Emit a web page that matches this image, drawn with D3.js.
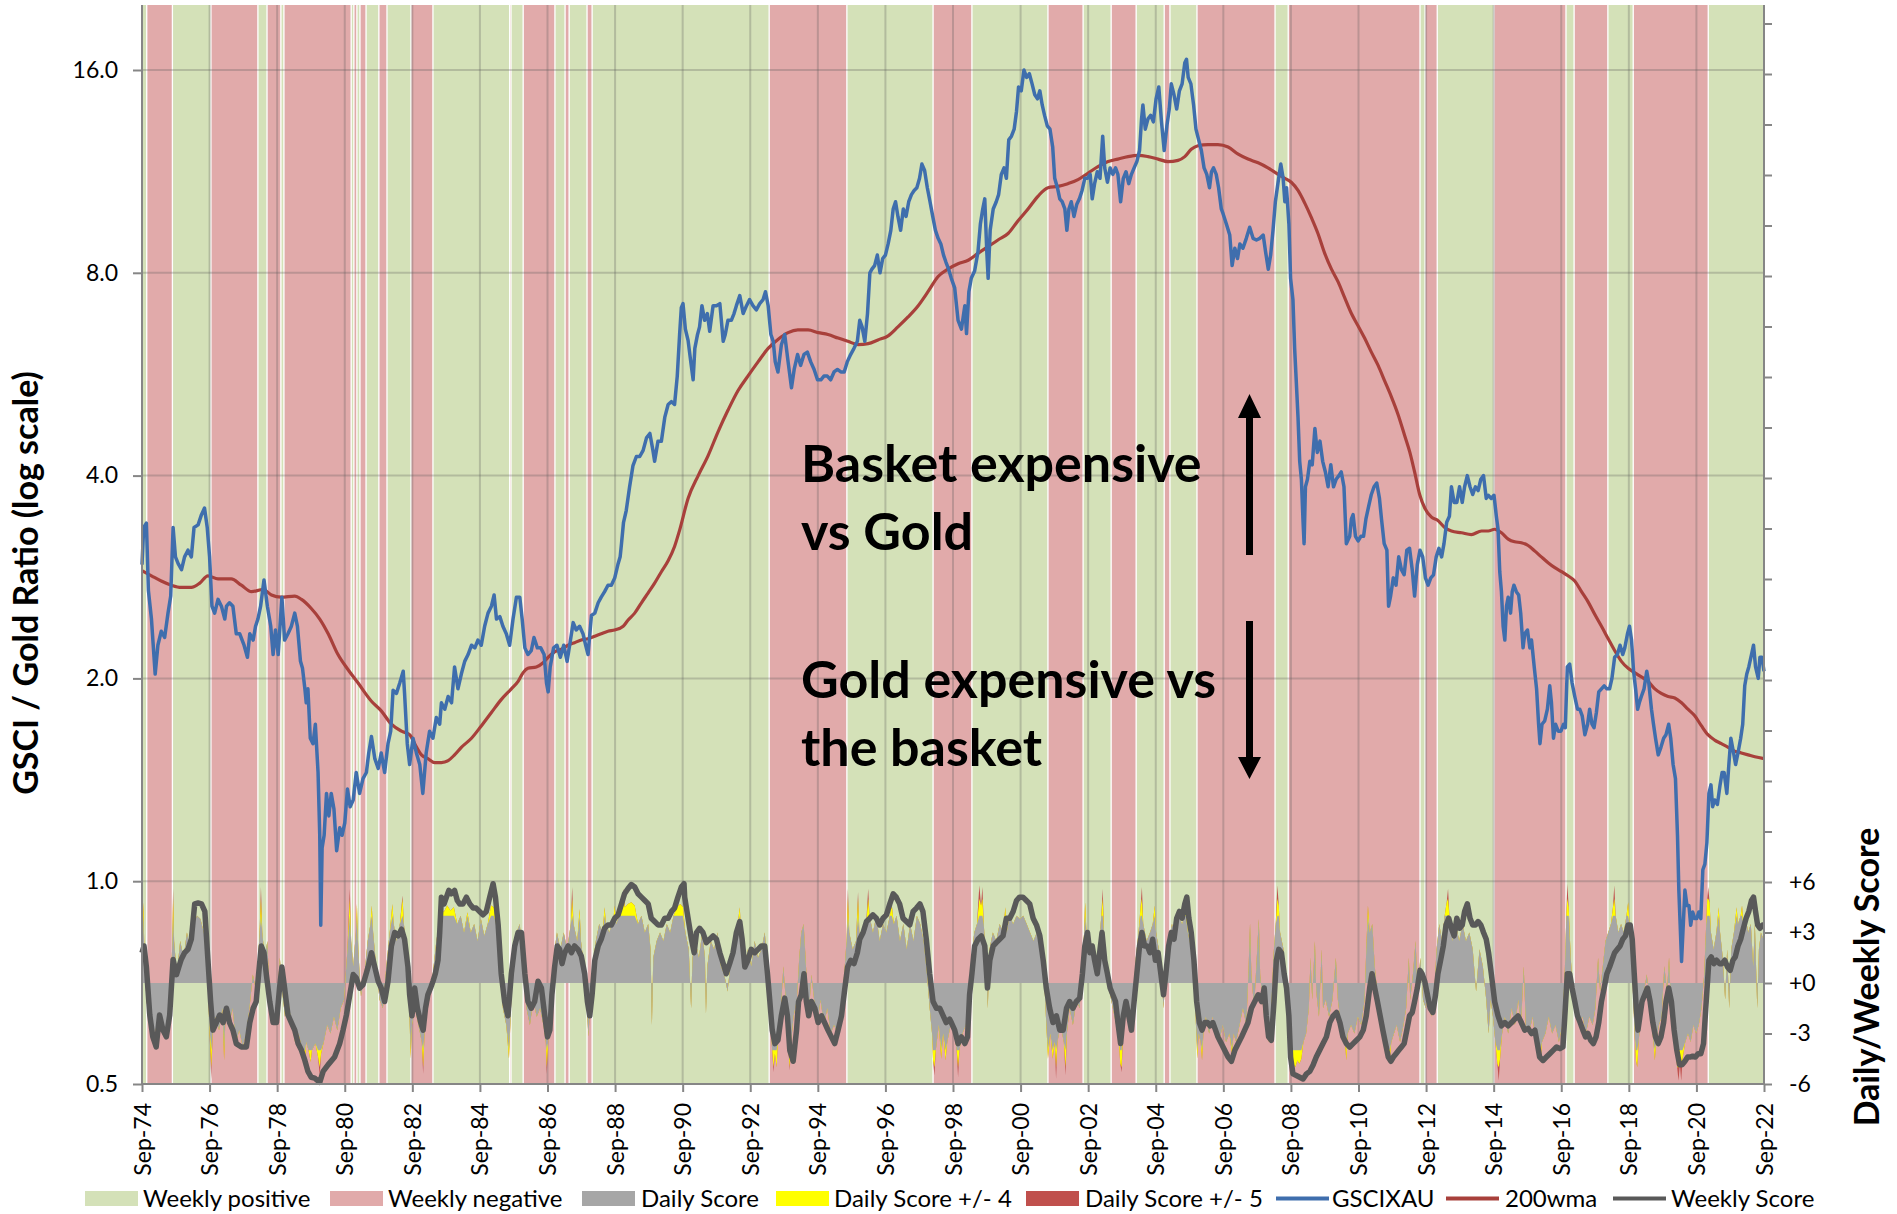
<!DOCTYPE html>
<html>
<head>
<meta charset="utf-8">
<script src="https://cdn.jsdelivr.net/npm/d3@7"></script>
<style>
  body { margin: 0; background: #fff; }
  svg { display: block; }
  text { font-family: Lato, "Open Sans", sans-serif; fill: #000; }
</style>
</head>
<body>
<svg id="chart" width="1897" height="1214"></svg>
<script>
// ---- Axis ticks -------------------------------------------------------
const xTickLabels = ["Sep-74","Sep-76","Sep-78","Sep-80","Sep-82","Sep-84","Sep-86","Sep-88",
  "Sep-90","Sep-92","Sep-94","Sep-96","Sep-98","Sep-00","Sep-02","Sep-04","Sep-06","Sep-08",
  "Sep-10","Sep-12","Sep-14","Sep-16","Sep-18","Sep-20","Sep-22"];
const xTickYears = [1974.67,1976.67,1978.67,1980.67,1982.67,1984.67,1986.67,1988.67,1990.67,
  1992.67,1994.67,1996.67,1998.67,2000.67,2002.67,2004.67,2006.67,2008.67,2010.67,2012.67,
  2014.67,2016.67,2018.67,2020.67,2022.67];
const ratioTicks = [0.5, 1, 2, 4, 8, 16];
const scoreLabels = [-6, -3, 0, 3, 6];

// ---- Weekly regime bands (edges in decimal years, +1 positive / -1 negative) ----
const bandEdges = [1974.67,1974.81,1975.57,1976.71,1978.10,1978.37,1978.78,1978.87,1980.86,
  1980.94,1981.03,1981.12,1981.30,1981.68,1981.92,1982.63,1983.28,1985.55,1985.59,1985.95,
  1986.89,1987.19,1987.31,1987.84,1987.99,1993.23,1995.53,1998.08,1999.23,2001.48,2002.52,
  2003.35,2004.09,2004.92,2005.09,2005.89,2008.20,2008.59,2012.49,2012.64,2013.00,2014.68,
  2016.81,2017.05,2018.05,2018.80,2021.02,2022.67];
const bandSigns = [1,-1,1,-1,1,-1,1,-1,1,-1,1,-1,1,-1,1,-1,1,-1,1,-1,1,-1,1,-1,1,-1,1,-1,1,-1,
  1,-1,1,-1,1,-1,1,-1,1,-1,1,-1,1,-1,1,-1,1];

// ---- GSCI / Gold ratio (GSCIXAU) ---------------------------------------
const gsciGold = [
[1974.67,2.95],[1974.72,3.35],[1974.80,3.40],[1974.86,2.70],[1974.95,2.45],[1975.06,2.03],[1975.14,2.24],[1975.24,2.35],[1975.34,2.30],[1975.44,2.50],[1975.52,2.65],[1975.59,3.35],[1975.66,3.03],[1975.74,2.96],[1975.84,2.90],[1975.93,3.03],[1976.03,3.10],[1976.13,3.03],[1976.21,3.35],[1976.33,3.38],[1976.43,3.50],[1976.52,3.58],[1976.60,3.35],[1976.67,3.03],[1976.74,2.56],[1976.82,2.50],[1976.92,2.62],[1977.02,2.56],[1977.12,2.45],[1977.17,2.56],[1977.26,2.59],[1977.36,2.56],[1977.46,2.33],[1977.56,2.33],[1977.69,2.24],[1977.79,2.15],[1977.86,2.33],[1977.96,2.28],[1978.03,2.39],[1978.10,2.45],[1978.18,2.56],[1978.28,2.80],[1978.38,2.56],[1978.48,2.39],[1978.55,2.17],[1978.62,2.36],[1978.70,2.17],[1978.81,2.64],[1978.89,2.28],[1978.99,2.33],[1979.09,2.39],[1979.19,2.50],[1979.27,2.39],[1979.36,2.12],[1979.42,2.07],[1979.49,1.93],[1979.53,1.84],[1979.58,1.93],[1979.65,1.63],[1979.73,1.60],[1979.80,1.71],[1979.88,1.45],[1979.93,1.17],[1979.96,0.86],[1980.00,1.12],[1980.06,1.17],[1980.13,1.35],[1980.20,1.25],[1980.27,1.35],[1980.35,1.28],[1980.43,1.11],[1980.52,1.20],[1980.59,1.17],[1980.67,1.22],[1980.75,1.37],[1980.83,1.29],[1980.92,1.32],[1981.01,1.45],[1981.11,1.35],[1981.21,1.42],[1981.31,1.45],[1981.38,1.55],[1981.46,1.64],[1981.56,1.52],[1981.66,1.47],[1981.75,1.55],[1981.85,1.45],[1981.95,1.60],[1982.03,1.67],[1982.10,1.92],[1982.20,1.90],[1982.30,1.97],[1982.40,2.05],[1982.44,1.90],[1982.52,1.60],[1982.59,1.49],
[1982.69,1.63],[1982.79,1.55],[1982.89,1.49],[1982.98,1.35],[1983.08,1.55],[1983.18,1.67],[1983.28,1.63],[1983.38,1.75],[1983.48,1.71],[1983.53,1.84],[1983.63,1.80],[1983.73,1.88],[1983.83,1.84],[1983.92,2.08],[1984.02,1.93],[1984.12,2.03],[1984.22,2.12],[1984.32,2.17],[1984.42,2.24],[1984.52,2.22],[1984.61,2.28],[1984.71,2.24],[1984.81,2.39],[1984.91,2.50],[1985.01,2.56],[1985.09,2.66],[1985.16,2.45],[1985.26,2.47],[1985.35,2.39],[1985.45,2.33],[1985.55,2.24],[1985.65,2.45],[1985.75,2.64],[1985.85,2.64],[1985.92,2.45],[1986.00,2.22],[1986.09,2.17],[1986.19,2.20],[1986.27,2.30],[1986.37,2.22],[1986.47,2.22],[1986.57,2.17],[1986.64,1.97],[1986.69,1.91],[1986.75,2.08],[1986.85,2.22],[1986.95,2.24],[1987.05,2.15],[1987.15,2.24],[1987.25,2.12],[1987.35,2.28],[1987.43,2.42],[1987.52,2.36],[1987.62,2.39],[1987.72,2.33],[1987.80,2.24],[1987.87,2.17],[1987.97,2.48],[1988.07,2.50],[1988.17,2.59],[1988.26,2.64],[1988.36,2.69],[1988.46,2.75],[1988.56,2.75],[1988.66,2.82],[1988.76,2.96],[1988.82,3.03],[1988.86,3.17],[1988.92,3.41],[1989.00,3.55],[1989.10,3.85],[1989.20,4.14],[1989.30,4.27],[1989.40,4.27],[1989.50,4.36],[1989.60,4.55],[1989.70,4.62],[1989.79,4.36],[1989.84,4.20],[1989.94,4.50],[1990.04,4.50],[1990.14,4.88],[1990.24,5.10],[1990.34,5.15],[1990.43,5.10],[1990.51,5.62],[1990.58,6.48],
[1990.63,7.10],[1990.68,7.20],[1990.75,6.60],[1990.83,6.35],[1990.91,5.90],[1990.98,5.55],[1991.03,6.18],[1991.11,6.48],[1991.17,6.65],[1991.24,7.15],[1991.32,6.80],[1991.40,6.96],[1991.47,6.55],[1991.57,7.15],[1991.67,7.15],[1991.77,7.20],[1991.87,6.33],[1991.93,6.48],[1992.01,6.80],[1992.11,6.80],[1992.19,6.96],[1992.26,7.15],[1992.36,7.40],[1992.46,6.96],[1992.56,7.15],[1992.65,7.30],[1992.75,7.15],[1992.85,7.05],[1992.95,7.20],[1993.05,7.30],[1993.12,7.50],[1993.20,7.15],[1993.28,6.48],[1993.35,6.33],[1993.41,5.90],[1993.49,5.70],[1993.59,6.25],[1993.69,6.48],[1993.79,5.90],[1993.89,5.40],[1993.97,5.75],[1994.07,6.05],[1994.16,5.83],[1994.26,6.05],[1994.36,6.10],[1994.46,5.90],[1994.56,5.75],[1994.66,5.55],[1994.76,5.55],[1994.85,5.62],[1994.95,5.62],[1995.05,5.55],[1995.15,5.70],[1995.25,5.75],[1995.35,5.70],[1995.45,5.70],[1995.54,5.90],[1995.64,6.05],[1995.74,6.18],[1995.84,6.33],[1995.91,6.80],[1995.98,6.65],[1996.06,6.33],[1996.14,6.96],[1996.21,8.00],[1996.27,8.10],[1996.35,8.20],[1996.43,8.50],[1996.51,8.00],[1996.59,8.40],[1996.67,8.50],[1996.75,8.83],[1996.83,9.25],[1996.90,9.95],[1996.97,10.20],[1997.04,9.70],[1997.12,9.25],[1997.20,9.95],[1997.28,9.70],[1997.36,10.20],[1997.44,10.45],[1997.52,10.60],[1997.60,10.70],[1997.68,11.05],[1997.75,11.60],[1997.83,11.35],[1997.91,10.70],[1997.99,10.20],[1998.07,9.70],[1998.15,9.25],[1998.23,9.00],[1998.31,8.83],[1998.39,8.50],[1998.46,8.30],[1998.54,8.10],
[1998.62,7.85],[1998.72,7.60],[1998.82,6.80],[1998.92,6.60],[1999.02,7.15],[1999.07,6.50],[1999.14,7.50],[1999.21,7.85],[1999.31,8.05],[1999.41,8.60],[1999.48,9.45],[1999.55,9.95],[1999.61,10.30],[1999.67,8.60],[1999.71,7.85],[1999.77,9.25],[1999.86,9.95],[1999.95,10.20],[2000.02,10.45],[2000.10,11.20],[2000.18,11.45],[2000.25,11.05],[2000.32,12.60],[2000.40,12.76],[2000.48,13.07],[2000.55,13.90],[2000.61,15.10],[2000.69,14.90],[2000.77,16.00],[2000.85,15.60],[2000.93,15.80],[2001.01,15.26],[2001.09,14.70],[2001.17,14.50],[2001.24,14.90],[2001.31,14.20],[2001.38,13.70],[2001.46,13.22],[2001.54,13.07],[2001.62,12.30],[2001.68,11.05],[2001.76,10.70],[2001.83,10.30],[2001.90,10.20],[2001.98,9.95],[2002.04,9.25],[2002.10,9.95],[2002.17,10.20],[2002.25,9.70],[2002.33,10.10],[2002.41,10.30],[2002.49,10.60],[2002.57,11.05],[2002.65,11.05],[2002.73,11.20],[2002.79,10.30],[2002.86,10.85],[2002.94,11.30],[2003.02,11.05],[2003.10,12.76],[2003.16,11.45],[2003.24,10.90],[2003.32,11.45],[2003.40,11.20],[2003.48,11.45],[2003.55,11.20],[2003.63,10.20],[2003.71,11.05],[2003.79,11.30],[2003.87,10.85],[2003.95,11.20],[2004.03,11.45],[2004.11,11.70],[2004.19,12.15],[2004.25,13.54],[2004.29,14.20],[2004.36,13.07],[2004.44,13.54],[2004.52,13.70],[2004.60,13.40],[2004.68,14.50],[2004.76,15.10],[2004.84,13.40],[2004.92,12.15],[2005.00,13.22],[2005.07,14.00],[2005.13,15.26],[2005.21,14.70],[2005.29,14.00],[2005.37,14.90],[2005.45,15.26],[2005.53,16.40],[2005.58,16.60],[2005.63,15.60],[2005.71,15.26],[2005.79,14.20],[2005.86,13.07],[2005.94,12.60],[2006.02,12.15],[2006.10,11.45],[2006.18,11.20],[2006.26,10.70],[2006.32,11.30],[2006.38,11.45],[2006.46,11.20],[2006.53,10.70],[2006.61,9.95],
[2006.66,9.80],[2006.76,9.45],[2006.86,9.10],[2006.93,8.20],[2007.01,8.70],[2007.09,8.40],[2007.16,8.83],[2007.25,8.70],[2007.35,9.00],[2007.45,9.35],[2007.55,9.00],[2007.65,8.95],[2007.75,9.00],[2007.85,9.10],[2007.92,8.60],[2008.00,8.10],[2008.07,8.50],[2008.14,9.25],[2008.21,10.20],[2008.29,10.90],[2008.37,11.60],[2008.44,11.05],[2008.49,10.20],[2008.54,10.70],[2008.61,9.45],[2008.66,7.85],[2008.73,7.30],[2008.78,6.18],[2008.83,5.50],[2008.88,4.88],[2008.93,4.20],[2008.98,3.95],[2009.03,3.41],[2009.06,3.17],[2009.10,3.85],[2009.16,3.95],[2009.23,4.20],[2009.30,4.15],[2009.38,4.70],[2009.45,4.33],[2009.53,4.50],[2009.61,4.20],[2009.69,4.05],[2009.77,3.85],[2009.85,4.15],[2009.93,3.85],[2010.01,3.95],[2010.09,4.00],[2010.16,4.05],[2010.24,3.85],[2010.31,3.17],[2010.41,3.25],[2010.46,3.45],[2010.51,3.50],[2010.58,3.25],[2010.66,3.20],[2010.74,3.25],[2010.82,3.25],[2010.89,3.45],[2010.97,3.60],[2011.05,3.75],[2011.13,3.85],[2011.21,3.90],[2011.29,3.70],[2011.35,3.45],[2011.43,3.17],[2011.51,3.10],[2011.56,2.56],[2011.62,2.65],[2011.70,2.82],[2011.78,2.75],[2011.86,3.03],[2011.94,2.90],[2012.02,2.85],[2012.10,3.10],[2012.18,3.12],[2012.26,2.90],[2012.33,2.65],[2012.41,2.95],[2012.49,3.10],[2012.57,3.03],[2012.65,2.82],[2012.73,2.75],[2012.81,2.82],[2012.89,2.85],[2012.97,3.03],[2013.05,3.12],[2013.13,3.03],[2013.20,3.17],[2013.28,3.41],[2013.36,3.48],[2013.42,3.85],[2013.50,3.65],[2013.58,3.65],[2013.66,3.85],[2013.74,3.65],[2013.81,3.85],[2013.89,4.00],[2013.97,3.85],[2014.05,3.75],[2014.13,3.85],[2014.21,3.80],[2014.29,3.95],[2014.37,4.00],[2014.45,3.70],
[2014.51,3.74],[2014.60,3.70],[2014.68,3.74],[2014.75,3.48],[2014.80,3.33],[2014.85,2.88],[2014.90,2.69],[2014.95,2.39],[2015.00,2.28],[2015.05,2.56],[2015.10,2.64],[2015.17,2.50],[2015.22,2.69],[2015.27,2.75],[2015.34,2.69],[2015.41,2.66],[2015.47,2.50],[2015.54,2.22],[2015.59,2.33],[2015.67,2.36],[2015.74,2.22],[2015.79,2.28],[2015.87,2.08],[2015.94,1.93],[2016.00,1.71],[2016.04,1.60],[2016.10,1.71],[2016.18,1.73],[2016.26,1.80],[2016.33,1.95],[2016.38,1.84],[2016.44,1.63],[2016.50,1.71],[2016.58,1.67],[2016.66,1.67],[2016.74,1.71],[2016.79,1.69],[2016.85,2.08],[2016.92,2.10],[2016.99,1.97],[2017.07,1.88],[2017.15,1.80],[2017.22,1.80],[2017.29,1.76],[2017.37,1.65],[2017.45,1.71],[2017.51,1.80],[2017.58,1.71],[2017.64,1.69],[2017.71,1.78],[2017.78,1.91],[2017.86,1.93],[2017.94,1.95],[2018.02,1.93],[2018.10,1.93],[2018.17,2.00],[2018.25,2.15],[2018.33,2.17],[2018.41,2.24],[2018.49,2.17],[2018.55,2.22],[2018.63,2.33],[2018.69,2.39],[2018.75,2.28],[2018.81,2.05],[2018.87,1.93],[2018.93,1.80],[2018.98,1.84],[2019.04,1.88],[2019.12,1.93],[2019.20,2.05],[2019.26,1.97],[2019.34,1.80],[2019.40,1.71],[2019.46,1.63],[2019.54,1.54],[2019.62,1.58],[2019.70,1.63],[2019.77,1.65],[2019.85,1.71],[2019.91,1.63],[2019.98,1.49],[2020.05,1.42],[2020.11,1.17],[2020.15,0.97],[2020.19,0.86],[2020.23,0.76],[2020.28,0.86],[2020.33,0.97],[2020.39,0.92],[2020.45,0.92],[2020.50,0.86],[2020.56,0.90],[2020.62,0.88],[2020.68,0.88],[2020.74,0.90],[2020.80,0.88],[2020.86,1.04],[2020.92,1.06],[2020.98,1.14],[2021.04,1.35],[2021.10,1.39],[2021.15,1.29],[2021.21,1.32],[2021.29,1.30],[2021.37,1.39],[2021.43,1.45],[2021.49,1.45],[2021.57,1.35],[2021.63,1.49],[2021.69,1.63],[2021.77,1.55],[2021.83,1.49],[2021.90,1.55],[2021.98,1.63],[2022.04,1.71],[2022.10,1.95],[2022.16,2.03],[2022.22,2.08],[2022.30,2.17],[2022.36,2.24],[2022.42,2.08],[2022.50,2.00],[2022.55,2.15],[2022.61,2.15],[2022.67,2.05]
];

// ---- 200-week moving average of the ratio ------------------------------
const wma200 = [
[1974.67,2.89],[1974.95,2.84],[1975.24,2.79],[1975.54,2.75],[1975.83,2.73],[1976.13,2.73],[1976.38,2.77],[1976.62,2.84],[1976.92,2.81],[1977.31,2.81],[1977.61,2.75],[1977.91,2.69],[1978.25,2.71],[1978.50,2.66],[1978.79,2.64],[1979.19,2.65],[1979.39,2.62],[1979.68,2.54],[1979.93,2.45],[1980.18,2.33],[1980.47,2.17],[1980.77,2.06],[1981.06,1.97],[1981.46,1.85],[1981.75,1.79],[1982.05,1.71],[1982.35,1.67],[1982.59,1.65],
[1982.74,1.60],[1982.94,1.54],[1983.13,1.52],[1983.33,1.50],[1983.53,1.50],[1983.73,1.51],[1983.92,1.54],[1984.12,1.58],[1984.42,1.63],[1984.71,1.70],[1985.01,1.78],[1985.30,1.86],[1985.60,1.93],[1985.80,1.98],[1985.95,2.04],[1986.09,2.07],[1986.34,2.08],[1986.54,2.11],[1986.69,2.15],[1986.88,2.19],[1987.08,2.21],[1987.28,2.24],[1987.47,2.26],[1987.67,2.28],[1987.87,2.29],[1988.07,2.31],[1988.26,2.33],[1988.46,2.35],[1988.66,2.36],[1988.91,2.39],[1989.05,2.44],[1989.25,2.50],[1989.45,2.59],[1989.65,2.68],[1989.84,2.77],[1990.04,2.88],[1990.24,2.99],[1990.43,3.14],[1990.58,3.32],
[1990.83,3.70],[1991.13,4.00],[1991.42,4.28],[1991.72,4.65],[1992.01,5.00],[1992.31,5.35],[1992.60,5.62],[1992.90,5.90],[1993.20,6.18],[1993.49,6.37],[1993.79,6.52],[1994.08,6.58],[1994.38,6.58],[1994.68,6.52],[1994.97,6.48],[1995.27,6.40],[1995.56,6.33],[1995.86,6.26],[1996.16,6.28],[1996.45,6.36],[1996.75,6.45],[1997.04,6.65],[1997.34,6.88],[1997.64,7.15],[1997.93,7.50],[1998.23,7.90],[1998.52,8.10],
[1998.82,8.25],[1999.12,8.35],[1999.41,8.55],[1999.71,8.75],[2000.00,8.95],[2000.30,9.15],[2000.59,9.55],[2000.89,9.95],[2001.19,10.40],[2001.48,10.70],[2001.78,10.75],[2002.07,10.85],[2002.37,11.00],[2002.67,11.25],[2002.96,11.50],[2003.26,11.70],[2003.55,11.80],[2003.85,11.90],[2004.15,11.95],[2004.44,11.90],[2004.74,11.80],[2005.03,11.70],[2005.33,11.75],[2005.53,11.90],[2005.72,12.20],[2005.92,12.35],[2006.22,12.40],[2006.51,12.40],
[2006.81,12.30],[2007.11,12.00],[2007.40,11.80],[2007.70,11.65],[2007.99,11.45],[2008.29,11.20],[2008.49,11.05],[2008.68,10.90],[2008.88,10.60],[2009.08,10.15],[2009.28,9.65],[2009.47,9.15],[2009.67,8.55],[2009.87,8.10],[2010.07,7.75],[2010.26,7.35],[2010.46,6.96],[2010.66,6.67],[2010.85,6.40],[2011.05,6.10],[2011.25,5.83],[2011.45,5.52],[2011.64,5.24],[2011.84,4.93],[2012.04,4.58],[2012.19,4.33],[2012.33,4.05],[2012.48,3.75],[2012.63,3.58],[2012.83,3.47],[2013.02,3.43],[2013.22,3.35],[2013.42,3.31],[2013.72,3.29],[2014.01,3.27],[2014.31,3.31],[2014.51,3.31],
[2014.70,3.33],[2014.90,3.29],[2015.10,3.22],[2015.29,3.19],[2015.49,3.18],[2015.69,3.15],[2015.89,3.09],[2016.08,3.03],[2016.28,2.97],[2016.48,2.92],[2016.68,2.88],[2016.87,2.84],[2017.07,2.79],[2017.27,2.69],[2017.46,2.60],[2017.66,2.49],[2017.86,2.39],[2018.06,2.29],[2018.25,2.20],[2018.45,2.12],[2018.65,2.07],[2018.84,2.04],[2019.04,2.01],[2019.24,1.98],[2019.44,1.93],[2019.63,1.90],[2019.83,1.88],[2020.03,1.87],[2020.23,1.84],[2020.42,1.80],[2020.62,1.76],[2020.82,1.70],[2021.01,1.65],[2021.21,1.62],[2021.41,1.60],[2021.61,1.58],[2021.80,1.56],[2022.00,1.55],[2022.20,1.54],[2022.40,1.53],[2022.67,1.52]
];

// ---- Weekly score (right axis) -----------------------------------------
const weeklyScore = [
[1974.67,1.8],[1974.73,2.2],[1974.80,0.95],[1974.90,-1.9],[1974.99,-3.2],[1975.09,-3.8],[1975.19,-1.9],[1975.29,-2.8],[1975.39,-3.2],[1975.49,-1.9],[1975.59,1.4],[1975.69,0.5],[1975.76,0.95],[1975.83,1.4],[1975.93,1.8],[1976.03,2.0],[1976.13,2.6],[1976.23,4.7],[1976.33,4.75],[1976.43,4.7],[1976.53,4.25],[1976.62,1.4],[1976.70,-1.1],[1976.77,-2.8],[1976.87,-2.35],[1976.97,-1.9],[1977.07,-2.35],[1977.17,-1.5],[1977.26,-2.35],[1977.36,-2.8],[1977.46,-3.6],[1977.61,-3.8],[1977.76,-3.8],[1977.86,-2.35],[1977.96,-1.5],[1978.05,-1.1],[1978.12,0.5],[1978.20,2.2],[1978.28,1.8],[1978.35,0.5],[1978.45,-1.1],[1978.55,-2.35],[1978.65,-2.35],[1978.74,-0.3],[1978.81,0.95],[1978.89,-0.3],[1978.99,-1.9],[1979.09,-2.35],[1979.19,-2.8],[1979.29,-3.6],[1979.39,-4.0],[1979.49,-4.6],[1979.58,-5.25],[1979.68,-5.6],[1979.78,-5.65],[1979.93,-5.9],[1980.03,-5.25],[1980.18,-4.85],[1980.37,-4.4],[1980.52,-3.6],[1980.62,-2.8],[1980.72,-1.9],[1980.82,-0.7],[1980.92,0.5],[1981.01,0.3],[1981.11,-0.3],[1981.21,-0.1],[1981.36,0.95],[1981.46,1.8],[1981.56,0.95],[1981.66,0.1],[1981.75,-0.3],[1981.85,-1.1],[1981.95,0.1],[1982.05,2.2],[1982.15,3.0],[1982.25,2.8],[1982.35,3.2],[1982.44,2.6],[1982.54,0.95],
[1982.59,-0.7],[1982.66,-1.95],[1982.74,-0.3],[1982.82,-1.5],[1982.92,-2.35],[1982.99,-2.8],[1983.06,-1.5],[1983.13,-0.7],[1983.21,-0.3],[1983.28,0.1],[1983.35,0.55],[1983.43,1.35],[1983.48,3.0],[1983.53,5.1],[1983.61,4.7],[1983.68,5.1],[1983.75,5.5],[1983.82,5.3],[1983.92,5.5],[1984.00,4.9],[1984.07,4.7],[1984.17,4.7],[1984.27,5.1],[1984.37,4.7],[1984.47,4.45],[1984.56,4.45],[1984.66,4.25],[1984.76,4.05],[1984.86,4.25],[1984.96,5.1],[1985.06,5.9],[1985.13,5.1],[1985.21,3.45],[1985.30,0.55],[1985.40,-1.1],[1985.50,-1.95],[1985.60,0.55],[1985.70,2.2],[1985.80,3.0],[1985.90,3.0],[1986.00,0.55],[1986.09,-1.1],[1986.19,-1.5],[1986.29,-1.1],[1986.39,0.1],[1986.49,-0.3],[1986.59,-1.95],[1986.67,-3.2],[1986.74,-2.8],[1986.80,-0.7],[1986.88,0.95],[1986.96,2.2],[1987.03,2.0],[1987.10,1.15],[1987.18,1.8],[1987.28,2.2],[1987.38,1.8],[1987.47,2.2],[1987.57,2.0],[1987.67,1.6],[1987.77,0.55],[1987.85,-1.1],[1987.92,-1.95],[1987.99,-0.7],[1988.07,1.35],[1988.17,2.2],[1988.26,2.6],[1988.36,3.25],[1988.46,3.45],[1988.56,3.45],[1988.66,3.85],[1988.76,4.05],[1988.86,4.7],[1988.95,5.3],[1989.05,5.6],[1989.15,5.85],[1989.25,5.7],[1989.35,5.3],[1989.45,5.1],[1989.55,4.9],[1989.65,4.7],[1989.74,3.85],[1989.84,3.65],[1989.94,3.45],[1990.04,3.45],[1990.14,3.85],[1990.24,3.85],[1990.34,4.25],[1990.43,4.45],[1990.53,5.1],[1990.63,5.7],[1990.71,5.9],
[1990.73,5.1],[1990.83,3.85],[1990.93,2.6],[1991.01,1.8],[1991.08,3.0],[1991.17,3.25],[1991.27,3.0],[1991.37,2.4],[1991.47,2.6],[1991.57,2.8],[1991.67,2.6],[1991.77,1.8],[1991.87,1.15],[1991.96,0.55],[1992.06,1.15],[1992.16,1.8],[1992.26,3.0],[1992.36,3.65],[1992.43,2.6],[1992.51,0.95],[1992.60,1.35],[1992.70,2.0],[1992.80,1.8],[1992.90,2.0],[1993.00,2.2],[1993.10,2.2],[1993.18,0.55],[1993.25,-1.1],[1993.32,-2.8],[1993.40,-3.6],[1993.49,-3.4],[1993.59,-1.95],[1993.69,-0.9],[1993.77,-1.95],[1993.84,-4.0],[1993.94,-4.65],[1994.04,-2.8],[1994.10,-1.1],[1994.18,-0.7],[1994.26,0.55],[1994.33,-1.1],[1994.40,-1.95],[1994.48,-1.1],[1994.58,-1.5],[1994.68,-2.35],[1994.78,-1.95],[1994.87,-2.35],[1994.97,-2.8],[1995.07,-3.2],[1995.17,-3.6],[1995.27,-2.8],[1995.37,-1.95],[1995.47,-0.3],[1995.55,0.95],[1995.64,1.35],[1995.74,1.15],[1995.84,1.8],[1995.91,2.6],[1996.01,3.0],[1996.11,3.65],[1996.21,3.85],[1996.30,4.05],[1996.40,3.85],[1996.50,3.45],[1996.60,3.85],[1996.70,4.05],[1996.80,4.7],[1996.90,5.3],[1996.99,5.1],[1997.09,4.7],[1997.19,3.85],[1997.29,3.65],[1997.39,3.45],[1997.49,4.25],[1997.59,4.45],[1997.69,4.7],[1997.78,4.25],[1997.88,2.6],[1997.98,0.55],[1998.08,-1.1],[1998.18,-1.5],[1998.28,-1.5],[1998.38,-1.95],[1998.47,-2.35],[1998.57,-2.15],
[1998.62,-2.35],[1998.72,-2.8],[1998.82,-3.6],[1998.92,-3.2],[1999.02,-3.6],[1999.10,-3.2],[1999.16,-0.7],[1999.23,0.55],[1999.31,2.2],[1999.41,2.6],[1999.51,2.8],[1999.61,2.2],[1999.69,-0.3],[1999.76,1.35],[1999.86,2.2],[1999.95,2.4],[2000.05,2.6],[2000.15,2.8],[2000.25,3.85],[2000.35,3.85],[2000.45,4.25],[2000.55,4.9],[2000.64,5.1],[2000.74,5.1],[2000.84,4.9],[2000.94,4.7],[2001.04,3.85],[2001.14,3.45],[2001.24,2.8],[2001.34,1.35],[2001.43,-0.3],[2001.53,-1.5],[2001.63,-2.35],[2001.73,-1.95],[2001.83,-2.8],[2001.93,-2.8],[2002.03,-1.5],[2002.12,-1.1],[2002.22,-1.5],[2002.32,-1.1],[2002.42,-0.9],[2002.50,0.55],[2002.57,2.2],[2002.65,3.0],[2002.72,1.8],[2002.79,2.2],[2002.86,1.35],[2002.94,0.55],[2003.01,1.8],[2003.08,3.0],[2003.16,1.35],[2003.24,0.55],[2003.32,-0.3],[2003.40,-0.7],[2003.48,-1.1],[2003.55,-2.35],[2003.63,-3.6],[2003.71,-1.95],[2003.79,-1.1],[2003.87,-1.95],[2003.95,-2.8],[2004.03,-1.1],[2004.11,0.55],[2004.19,2.2],[2004.26,3.0],[2004.34,2.2],[2004.42,2.2],[2004.50,1.8],[2004.58,2.6],[2004.66,1.35],[2004.74,1.8],[2004.82,0.55],[2004.90,-0.7],[2004.97,0.55],[2005.05,2.2],[2005.13,3.0],[2005.21,2.6],[2005.29,3.85],[2005.37,4.25],[2005.45,3.85],[2005.53,4.7],[2005.59,5.1],[2005.65,3.85],[2005.72,3.0],[2005.80,1.35],[2005.88,-1.1],[2005.96,-2.35],[2006.04,-2.8],[2006.12,-2.35],[2006.20,-2.35],[2006.28,-2.55],[2006.36,-2.35],[2006.44,-2.8],[2006.51,-3.2],
[2006.61,-3.6],[2006.71,-4.0],[2006.81,-4.4],[2006.91,-4.65],[2007.01,-4.0],[2007.11,-3.6],[2007.21,-3.2],[2007.30,-2.8],[2007.40,-2.35],[2007.50,-1.5],[2007.60,-1.1],[2007.70,-0.7],[2007.80,-1.1],[2007.88,-0.3],[2007.94,-1.95],[2008.01,-3.2],[2008.09,-3.4],[2008.17,-1.1],[2008.24,1.35],[2008.31,2.0],[2008.39,1.8],[2008.47,0.55],[2008.54,-0.3],[2008.61,-1.95],[2008.66,-4.4],[2008.73,-5.4],[2008.83,-5.5],[2008.93,-5.6],[2009.03,-5.7],[2009.13,-5.4],[2009.23,-5.25],[2009.33,-4.85],[2009.42,-4.4],[2009.52,-4.0],[2009.62,-3.6],[2009.72,-3.2],[2009.82,-2.35],[2009.92,-1.95],[2010.02,-1.75],[2010.12,-2.35],[2010.21,-3.2],[2010.31,-3.6],[2010.41,-3.8],[2010.51,-3.6],[2010.61,-3.4],[2010.71,-3.2],[2010.81,-2.8],[2010.90,-1.95],[2011.00,-0.3],[2011.07,0.55],[2011.15,-0.3],[2011.23,-1.1],[2011.31,-1.95],[2011.39,-2.8],[2011.47,-3.6],[2011.55,-4.4],[2011.63,-4.65],[2011.70,-4.4],[2011.78,-4.2],[2011.86,-4.0],[2011.94,-3.8],[2012.02,-3.6],[2012.10,-2.8],[2012.18,-1.95],[2012.26,-1.75],[2012.33,-1.1],[2012.41,-0.3],[2012.49,0.75],[2012.55,0.55],[2012.63,0.1],[2012.71,-0.7],[2012.79,-1.5],[2012.87,-1.75],[2012.95,-0.7],[2013.02,0.55],[2013.10,1.35],[2013.18,2.2],[2013.26,3.45],[2013.34,3.85],[2013.42,3.25],[2013.50,2.8],[2013.58,3.85],[2013.66,3.25],[2013.74,3.45],[2013.81,4.25],[2013.89,4.7],[2013.97,3.85],[2014.05,3.45],[2014.13,3.45],[2014.21,3.65],[2014.29,3.45],[2014.37,3.0],[2014.45,2.6],[2014.52,1.8],
[2014.60,0.55],[2014.70,-1.1],[2014.80,-1.95],[2014.90,-2.55],[2015.00,-2.35],[2015.10,-2.55],[2015.20,-2.35],[2015.29,-2.15],[2015.39,-1.95],[2015.49,-2.35],[2015.59,-2.8],[2015.69,-2.7],[2015.79,-3.0],[2015.89,-2.8],[2015.96,-3.6],[2016.03,-4.4],[2016.13,-4.6],[2016.23,-4.4],[2016.33,-4.2],[2016.43,-4.0],[2016.53,-3.8],[2016.63,-3.9],[2016.72,-3.8],[2016.79,-1.5],[2016.85,0.55],[2016.92,0.55],[2016.99,-0.3],[2017.07,-1.1],[2017.15,-1.95],[2017.23,-2.35],[2017.31,-2.8],[2017.39,-3.2],[2017.46,-3.0],[2017.54,-3.4],[2017.62,-3.6],[2017.70,-3.2],[2017.78,-2.35],[2017.86,-1.1],[2017.94,-0.3],[2018.02,0.55],[2018.10,0.95],[2018.17,1.35],[2018.25,1.8],[2018.33,2.0],[2018.41,2.2],[2018.49,2.6],[2018.57,2.8],[2018.65,3.45],[2018.71,3.45],[2018.77,2.6],[2018.83,0.55],[2018.89,-1.5],[2018.94,-2.8],[2019.00,-1.95],[2019.06,-1.1],[2019.14,-0.7],[2019.22,-0.3],[2019.30,-1.1],[2019.38,-2.35],[2019.46,-3.2],[2019.54,-3.6],[2019.62,-3.2],[2019.70,-2.35],[2019.77,-1.1],[2019.85,-0.3],[2019.93,-1.1],[2020.01,-2.8],[2020.09,-4.0],[2020.17,-4.85],[2020.25,-4.85],[2020.33,-4.65],[2020.41,-4.4],[2020.48,-4.4],[2020.56,-4.35],[2020.64,-4.4],[2020.72,-4.2],[2020.80,-4.2],[2020.88,-3.6],[2020.96,-1.1],[2021.04,1.35],[2021.11,1.55],[2021.19,1.15],[2021.27,1.35],[2021.35,1.15],[2021.43,1.15],[2021.51,1.35],[2021.59,0.95],[2021.67,0.75],[2021.75,1.35],[2021.82,1.55],[2021.90,2.2],[2021.98,2.6],[2022.06,3.25],[2022.14,3.85],[2022.22,4.25],[2022.30,4.9],[2022.36,5.1],[2022.42,4.25],[2022.48,3.45],[2022.55,3.25],[2022.63,3.45],[2022.67,3.45]
];

// ---- Daily score (right axis); the +/-4 and +/-5 excursions get their own colours ----
const dailyScore = [
[1974.67,2.5],[1974.71,4.8],[1974.75,1.0],[1974.80,-1.0],[1974.90,-2.5],[1975.00,-3.2],[1975.10,-2.6],[1975.20,-2.2],[1975.30,-3.0],[1975.40,-2.6],[1975.50,-1.5],[1975.56,2.0],[1975.59,5.6],[1975.62,2.5],[1975.70,0.5],[1975.80,2.5],[1975.90,1.5],[1976.00,3.0],[1976.10,2.0],[1976.20,3.5],[1976.30,4.0],[1976.40,3.8],[1976.50,3.0],[1976.60,1.0],[1976.66,-2.5],[1976.72,-5.7],[1976.76,-3.0],[1976.85,-2.0],[1976.95,-2.8],[1977.05,-1.5],[1977.10,-4.6],[1977.14,-2.0],[1977.25,-2.5],[1977.35,-1.5],[1977.45,-3.5],[1977.55,-2.8],[1977.65,-3.8],[1977.75,-3.0],[1977.85,-1.5],[1977.95,0.5],[1978.05,-0.5],[1978.15,3.0],[1978.19,5.7],[1978.23,3.0],[1978.30,1.5],[1978.38,2.5],[1978.45,-1.0],[1978.55,-2.5],[1978.65,-1.5],[1978.75,1.5],[1978.82,-0.5],[1978.90,-2.0],[1979.00,-1.0],[1979.10,-2.5],[1979.20,-3.5],[1979.30,-3.0],[1979.40,-3.8],[1979.47,-4.0],[1979.50,-4.6],[1979.53,-3.5],[1979.60,-4.0],[1979.66,-4.7],[1979.70,-4.0],[1979.80,-3.6],[1979.88,-4.4],[1979.93,-5.5],[1979.97,-4.2],[1980.05,-3.5],[1980.15,-2.5],[1980.25,-3.0],[1980.35,-2.0],[1980.45,-2.8],[1980.55,-1.5],[1980.65,-1.0],[1980.75,2.0],[1980.82,5.6],[1980.86,2.5],[1980.92,1.0],[1981.00,3.0],[1981.03,4.7],[1981.07,2.0],[1981.15,-0.8],[1981.25,0.5],[1981.35,2.5],[1981.43,3.5],[1981.47,4.6],[1981.51,3.0],[1981.60,1.0],[1981.70,-1.0],[1981.80,-1.5],[1981.90,1.0],[1982.00,3.0],[1982.08,4.7],[1982.12,3.5],[1982.20,2.5],[1982.30,3.5],[1982.38,5.2],[1982.42,3.5],[1982.50,2.0],[1982.58,-1.5],[1982.62,-4.5],[1982.66,-2.5],[1982.75,-1.5],[1982.85,-2.5],[1982.95,-3.5],[1982.99,-5.4],[1983.03,-3.0],[1983.12,-1.5],[1983.22,-0.5],[1983.30,1.0],[1983.38,2.5],[1983.46,3.5],[1983.52,4.5],[1983.60,4.2],[1983.70,4.6],[1983.80,4.3],[1983.90,4.5],[1984.00,3.5],[1984.10,4.0],[1984.20,3.0],[1984.30,4.2],[1984.40,3.0],[1984.50,3.5],[1984.60,2.5],[1984.70,3.8],[1984.80,2.8],[1984.90,3.5],[1985.00,4.6],[1985.08,4.5],[1985.15,3.5],[1985.25,1.0],[1985.35,-1.5],[1985.45,-2.5],[1985.53,-4.5],[1985.58,-2.0],[1985.65,1.5],[1985.75,3.0],[1985.85,3.5],[1985.95,1.0],[1986.05,-1.5],[1986.15,-2.5],[1986.25,-1.0],[1986.35,-2.0],[1986.45,-1.5],[1986.55,-2.5],[1986.62,-3.5],[1986.65,-5.4],[1986.69,-3.5],[1986.78,-1.0],[1986.85,1.5],[1986.95,3.0],[1987.05,2.0],[1987.15,3.0],[1987.25,2.0],[1987.36,3.5],[1987.40,5.7],[1987.44,3.5],[1987.55,2.5],[1987.62,4.4],[1987.66,2.5],[1987.75,1.0],[1987.85,-2.0],[1987.88,-3.2],[1987.93,-1.5],[1988.00,1.0],[1988.10,2.5],[1988.20,3.5],[1988.30,3.0],[1988.36,4.5],[1988.40,3.5],[1988.50,3.0],[1988.62,3.8],[1988.66,4.6],[1988.70,3.5],[1988.80,4.0],[1988.86,4.6],[1988.92,5.6],[1988.96,4.5],[1989.05,4.7],[1989.15,4.8],[1989.25,4.6],[1989.35,3.5],[1989.45,4.0],[1989.55,3.0],[1989.65,3.5],[1989.72,2.0],[1989.76,-2.5],[1989.80,1.5],[1989.90,2.5],[1990.00,3.0],[1990.10,2.5],[1990.20,3.5],[1990.30,3.0],[1990.40,4.0],[1990.50,4.5],[1990.60,4.7],[1990.68,4.5],[1990.75,3.0],[1990.85,2.0],[1990.92,-1.5],[1990.96,1.5],[1991.05,2.5],[1991.15,1.5],[1991.25,3.0],[1991.33,1.5],[1991.36,-1.8],[1991.40,1.0],[1991.50,2.5],[1991.60,2.0],[1991.70,3.0],[1991.80,1.0],[1991.90,0.5],[1992.00,-0.5],[1992.10,1.5],[1992.20,2.5],[1992.30,3.5],[1992.36,4.5],[1992.40,3.0],[1992.50,1.0],[1992.60,2.0],[1992.70,1.0],[1992.80,2.5],[1992.90,1.5],[1993.00,2.0],[1993.10,3.0],[1993.18,1.0],[1993.25,-2.0],[1993.32,-4.0],[1993.36,-5.3],[1993.40,-4.2],[1993.45,-5.0],[1993.49,-3.5],[1993.58,-1.5],[1993.65,1.0],[1993.72,-1.0],[1993.80,-4.0],[1993.84,-5.2],[1993.88,-3.5],[1993.95,-2.0],[1994.05,-1.0],[1994.12,1.5],[1994.18,3.0],[1994.25,3.5],[1994.32,1.0],[1994.40,-2.0],[1994.48,0.5],[1994.56,-1.0],[1994.65,-2.5],[1994.75,-1.0],[1994.85,-2.5],[1994.95,-1.5],[1995.05,-3.0],[1995.15,-2.5],[1995.25,-3.0],[1995.35,-1.5],[1995.45,0.5],[1995.52,2.5],[1995.56,5.6],[1995.60,3.0],[1995.70,2.0],[1995.80,2.5],[1995.86,5.4],[1995.90,3.0],[1996.00,3.0],[1996.10,3.5],[1996.16,5.6],[1996.20,4.0],[1996.30,3.0],[1996.40,4.0],[1996.50,2.5],[1996.60,3.5],[1996.70,3.0],[1996.80,4.0],[1996.86,4.6],[1996.92,3.5],[1997.00,4.0],[1997.10,2.5],[1997.20,3.5],[1997.30,2.0],[1997.40,3.5],[1997.50,2.5],[1997.60,4.0],[1997.70,3.5],[1997.80,2.5],[1997.90,0.5],[1997.98,-1.5],[1998.05,-3.0],[1998.08,-4.6],[1998.12,-5.5],[1998.16,-4.0],[1998.25,-2.5],[1998.32,-4.5],[1998.38,-3.0],[1998.45,-4.6],[1998.50,-3.5],[1998.60,-2.5],[1998.70,-3.0],[1998.78,-4.0],[1998.82,-5.6],[1998.86,-4.0],[1998.95,-3.0],[1999.05,-2.5],[1999.15,-1.0],[1999.22,1.5],[1999.30,3.0],[1999.38,3.5],[1999.45,5.8],[1999.50,4.6],[1999.54,5.7],[1999.58,3.5],[1999.66,1.0],[1999.70,-1.5],[1999.75,2.0],[1999.85,3.0],[1999.95,2.5],[2000.05,3.5],[2000.15,3.0],[2000.22,4.5],[2000.26,3.0],[2000.35,4.0],[2000.45,3.5],[2000.55,4.0],[2000.65,3.8],[2000.75,4.0],[2000.85,3.5],[2000.95,3.0],[2001.05,2.5],[2001.15,3.0],[2001.25,2.0],[2001.35,1.0],[2001.42,-2.0],[2001.48,-4.5],[2001.55,-3.0],[2001.62,-4.5],[2001.68,-3.5],[2001.72,-5.7],[2001.76,-3.5],[2001.85,-2.5],[2001.95,-3.5],[2002.00,-5.5],[2002.04,-3.0],[2002.12,-1.5],[2002.22,-2.5],[2002.32,-1.0],[2002.42,-1.5],[2002.50,1.5],[2002.55,3.0],[2002.58,4.8],[2002.62,3.0],[2002.70,2.5],[2002.80,2.0],[2002.90,1.0],[2003.00,2.5],[2003.06,4.0],[2003.10,5.6],[2003.14,3.0],[2003.22,1.0],[2003.30,-0.5],[2003.40,-1.5],[2003.50,-2.5],[2003.58,-3.5],[2003.62,-4.8],[2003.66,-5.3],[2003.70,-3.0],[2003.80,-1.5],[2003.90,-2.5],[2004.00,-1.0],[2004.08,1.5],[2004.16,3.0],[2004.22,4.5],[2004.26,5.7],[2004.30,3.5],[2004.40,2.5],[2004.50,3.0],[2004.58,3.5],[2004.64,4.6],[2004.68,3.0],[2004.76,2.0],[2004.84,0.5],[2004.90,-1.5],[2004.98,1.0],[2005.05,2.5],[2005.15,3.5],[2005.25,3.0],[2005.35,4.0],[2005.45,3.5],[2005.52,4.0],[2005.56,4.4],[2005.62,3.0],[2005.72,2.0],[2005.80,0.5],[2005.86,-2.5],[2005.90,-4.5],[2005.94,-3.0],[2006.00,-3.5],[2006.04,-4.6],[2006.08,-3.0],[2006.15,-2.0],[2006.25,-3.0],[2006.35,-2.0],[2006.45,-3.0],[2006.55,-3.5],[2006.65,-2.5],[2006.75,-3.5],[2006.85,-3.0],[2006.93,-4.3],[2006.97,-3.0],[2007.05,-3.5],[2007.15,-2.5],[2007.25,-1.5],[2007.35,-2.5],[2007.42,1.0],[2007.46,3.5],[2007.50,0.5],[2007.58,-1.5],[2007.66,1.5],[2007.72,3.8],[2007.76,0.5],[2007.85,-1.5],[2007.92,-2.5],[2008.00,-3.5],[2008.08,-2.0],[2008.15,1.5],[2008.22,3.5],[2008.27,5.8],[2008.31,4.6],[2008.35,3.0],[2008.45,2.0],[2008.52,-1.0],[2008.60,-3.5],[2008.66,-5.0],[2008.74,-4.8],[2008.80,-5.0],[2008.86,-4.6],[2008.92,-4.8],[2008.98,-4.5],[2009.04,-3.5],[2009.12,-3.0],[2009.20,-1.5],[2009.25,1.5],[2009.30,-1.0],[2009.38,2.5],[2009.42,-0.5],[2009.50,-2.0],[2009.58,2.0],[2009.62,-1.5],[2009.70,-1.0],[2009.80,-2.0],[2009.90,-1.0],[2010.00,1.5],[2010.06,-1.0],[2010.12,-2.0],[2010.20,-3.0],[2010.27,-3.5],[2010.31,-4.6],[2010.35,-3.0],[2010.45,-2.5],[2010.55,-3.0],[2010.65,-2.0],[2010.75,-2.5],[2010.85,-1.0],[2010.90,2.0],[2010.95,4.6],[2011.00,3.0],[2011.08,3.5],[2011.15,1.0],[2011.25,-1.0],[2011.35,-2.0],[2011.45,-3.0],[2011.55,-3.8],[2011.60,-4.5],[2011.64,-3.5],[2011.72,-3.0],[2011.80,-2.5],[2011.90,-3.5],[2012.00,-2.5],[2012.08,-1.5],[2012.16,1.5],[2012.20,-1.0],[2012.28,0.5],[2012.36,2.5],[2012.42,-0.5],[2012.50,1.5],[2012.58,-1.0],[2012.66,-1.5],[2012.74,-0.5],[2012.82,-2.0],[2012.90,-1.0],[2012.98,2.0],[2013.06,3.5],[2013.14,2.5],[2013.22,4.0],[2013.28,4.8],[2013.32,5.6],[2013.36,4.0],[2013.45,2.5],[2013.55,3.5],[2013.65,2.5],[2013.75,3.5],[2013.85,2.5],[2013.95,3.0],[2014.05,2.0],[2014.15,-0.5],[2014.25,2.0],[2014.35,1.0],[2014.45,-1.0],[2014.52,-3.0],[2014.58,-1.0],[2014.65,-2.0],[2014.72,-3.5],[2014.78,-4.8],[2014.82,-5.8],[2014.86,-4.5],[2014.92,-3.0],[2015.00,-2.0],[2015.10,-3.0],[2015.20,-1.5],[2015.30,-2.5],[2015.40,-1.0],[2015.48,-2.5],[2015.56,1.0],[2015.62,-2.5],[2015.72,-3.0],[2015.82,-2.0],[2015.92,-3.5],[2016.00,-4.0],[2016.06,-4.6],[2016.10,-3.5],[2016.20,-3.0],[2016.30,-2.0],[2016.40,-3.0],[2016.50,-2.5],[2016.60,-3.5],[2016.70,-2.5],[2016.78,1.0],[2016.82,4.0],[2016.85,5.9],[2016.89,4.5],[2016.95,1.5],[2017.02,-0.5],[2017.10,-1.5],[2017.20,-2.5],[2017.30,-2.0],[2017.40,-3.0],[2017.50,-2.0],[2017.60,-2.5],[2017.68,-1.5],[2017.76,1.5],[2017.82,-0.5],[2017.90,1.0],[2017.98,2.5],[2018.06,3.0],[2018.14,3.5],[2018.20,4.5],[2018.24,5.8],[2018.28,4.0],[2018.36,3.0],[2018.44,3.5],[2018.52,3.0],[2018.60,4.0],[2018.65,4.8],[2018.69,3.5],[2018.76,1.0],[2018.84,-3.0],[2018.88,-4.6],[2018.92,-5.0],[2018.96,-3.5],[2019.04,-1.5],[2019.12,-0.5],[2019.20,0.5],[2019.26,-0.5],[2019.34,-2.5],[2019.40,-3.5],[2019.44,-4.6],[2019.48,-3.5],[2019.56,-2.5],[2019.64,-2.0],[2019.72,1.0],[2019.80,-0.5],[2019.86,1.5],[2019.92,-1.5],[2020.00,-3.0],[2020.06,-4.0],[2020.10,-5.0],[2020.14,-5.8],[2020.18,-4.8],[2020.22,-5.8],[2020.26,-4.5],[2020.34,-3.5],[2020.42,-3.0],[2020.50,-3.5],[2020.58,-2.5],[2020.66,-3.0],[2020.74,-2.5],[2020.82,-1.5],[2020.90,0.5],[2020.96,3.5],[2020.99,5.0],[2021.02,5.7],[2021.06,4.8],[2021.10,3.0],[2021.18,2.0],[2021.26,3.0],[2021.33,4.5],[2021.37,3.0],[2021.45,1.5],[2021.52,-1.0],[2021.58,2.0],[2021.64,-1.5],[2021.70,2.0],[2021.78,3.0],[2021.86,4.5],[2021.90,3.5],[2021.98,4.0],[2022.02,4.6],[2022.06,3.5],[2022.12,4.0],[2022.20,3.0],[2022.28,3.5],[2022.35,1.0],[2022.40,3.5],[2022.47,-1.5],[2022.52,2.0],[2022.58,3.0],[2022.67,2.5]
];

// ---- Layout ------------------------------------------------------------
const L = 142, R = 1764, T = 5, B = 1084;
const svg = d3.select("#chart");

const x = d3.scaleLinear().domain([xTickYears[0], xTickYears[xTickYears.length - 1]]).range([L, R]);
const y = d3.scaleLog().base(2).domain([0.5, 16]).range([B, 70]);
const ys = d3.scaleLinear().domain([-6, 6]).range([B, 882]);

const COL = {
  pos: "#d4e1b8", neg: "#e1aaaa", daily: "#a6a6a6", d4: "#ffff00", d5: "#c0504d",
  ratio: "#3f6ead", wma: "#a8403b", weekly: "#595959", axis: "#868686"
};

// Regime bands
const bands = bandSigns.map((s, i) => ({ x0: bandEdges[i], x1: bandEdges[i + 1], s }));
svg.append("g").selectAll("rect").data(bands).join("rect")
  .attr("x", d => x(d.x0)).attr("width", d => x(d.x1) - x(d.x0))
  .attr("y", T).attr("height", B - T)
  .attr("fill", d => d.s > 0 ? COL.pos : COL.neg);
svg.append("g").selectAll("line").data(bandEdges.slice(1, -1)).join("line")
  .attr("x1", d => x(d)).attr("x2", d => x(d)).attr("y1", T).attr("y2", B)
  .attr("stroke", "#fff").attr("stroke-width", 1.3);

// Gridlines
const grid = svg.append("g").attr("stroke", "rgba(90,90,90,0.28)").attr("stroke-width", 2);
grid.selectAll(".h").data(ratioTicks).join("line").attr("class", "h")
  .attr("x1", L).attr("x2", R).attr("y1", d => y(d)).attr("y2", d => y(d));
grid.selectAll(".v").data(xTickYears.slice(1, -1)).join("line").attr("class", "v")
  .attr("x1", d => x(d)).attr("x2", d => x(d)).attr("y1", T).attr("y2", B);

// Daily score areas: full excursion in red, capped at 5 in yellow, capped at 4 in grey
const clampArea = lim => d3.area()
  .x(d => x(d[0])).y0(ys(0))
  .y1(d => ys(Math.max(-lim, Math.min(lim, d[1]))));
svg.append("path").datum(dailyScore).attr("d", clampArea(6)).attr("fill", COL.d5);
svg.append("path").datum(dailyScore).attr("d", clampArea(5)).attr("fill", COL.d4);
svg.append("path").datum(dailyScore).attr("d", clampArea(4)).attr("fill", COL.daily);

// Weekly score line
svg.append("path").datum(weeklyScore)
  .attr("d", d3.line().x(d => x(d[0])).y(d => ys(d[1])))
  .attr("fill", "none").attr("stroke", COL.weekly).attr("stroke-width", 5.5)
  .attr("stroke-linejoin", "round");

// 200wma and ratio lines
svg.append("path").datum(wma200)
  .attr("d", d3.line().curve(d3.curveMonotoneX).x(d => x(d[0])).y(d => y(d[1])))
  .attr("fill", "none").attr("stroke", COL.wma).attr("stroke-width", 3.2);
svg.append("path").datum(gsciGold)
  .attr("d", d3.line().x(d => x(d[0])).y(d => y(d[1])))
  .attr("fill", "none").attr("stroke", COL.ratio).attr("stroke-width", 3.5)
  .attr("stroke-linejoin", "round");

// Axes
const styleAxis = g => {
  g.selectAll(".tick line").attr("stroke", COL.axis).attr("stroke-width", 2);
  g.selectAll(".tick text").attr("font-size", 23).attr("fill", "#000")
    .attr("font-family", "Lato, 'Open Sans', sans-serif");
};

const yAxis = svg.append("g").attr("transform", `translate(${L},0)`)
  .call(d3.axisLeft(y).tickValues(ratioTicks).tickFormat(d3.format(".1f")).tickSize(9).tickPadding(15));
yAxis.select(".domain").remove();
styleAxis(yAxis);

const xAxis = svg.append("g").attr("transform", `translate(0,${B})`)
  .call(d3.axisBottom(x).tickValues(xTickYears).tickFormat((d, i) => xTickLabels[i]).tickSize(8));
xAxis.select(".domain").remove();
styleAxis(xAxis);
xAxis.selectAll(".tick text")
  .attr("transform", "rotate(-90)").attr("x", -19).attr("y", 0).attr("dy", "0.35em")
  .attr("text-anchor", "end");

const rightTicks = d3.range(-6, ys.invert(T) + 0.01, 3);
const rAxis = svg.append("g").attr("transform", `translate(${R},0)`)
  .call(d3.axisRight(ys).tickValues(rightTicks)
    .tickFormat(d => Math.abs(d) <= 6 ? (d >= 0 ? "+" + d : String(d)) : "")
    .tickSize(8).tickPadding(17));
rAxis.select(".domain").remove();
styleAxis(rAxis);
rAxis.selectAll(".tick text").attr("fill", d => d < 0 ? "#ff0000" : "#000");

// Axis lines
const axisLines = svg.append("g").attr("stroke", COL.axis).attr("stroke-width", 2);
axisLines.append("line").attr("x1", L).attr("x2", L).attr("y1", T).attr("y2", B);
axisLines.append("line").attr("x1", R).attr("x2", R).attr("y1", T).attr("y2", B);
axisLines.append("line").attr("x1", L).attr("x2", R).attr("y1", B).attr("y2", B);

// Axis titles
svg.append("text").attr("transform", "translate(38,583) rotate(-90)")
  .attr("text-anchor", "middle").attr("font-weight", 700).attr("font-size", 34)
  .text("GSCI / Gold Ratio (log scale)");
svg.append("text").attr("transform", "translate(1879,977) rotate(-90)")
  .attr("text-anchor", "middle").attr("font-weight", 700).attr("font-size", 34)
  .text("Daily/Weekly Score");

// Annotations
const note = svg.append("g").attr("font-weight", 700).attr("font-size", 52);
[["Basket expensive", 482], ["vs Gold", 550], ["Gold expensive vs", 698], ["the basket", 766]]
  .forEach(([t, yy]) => note.append("text").attr("x", 801).attr("y", yy).text(t));
svg.append("path").attr("fill", "#000")
  .attr("d", "M1246,555 L1246,418 L1238,418 L1249.5,394 L1261,418 L1253,418 L1253,555 Z");
svg.append("path").attr("fill", "#000")
  .attr("d", "M1246,621 L1246,757 L1238,757 L1249.5,779 L1261,757 L1253,757 L1253,621 Z");

// Legend
const legend = svg.append("g").attr("font-size", 24);
const boxes = [
  { x: 85, tx: 143, c: COL.pos, t: "Weekly positive" },
  { x: 330, tx: 388, c: COL.neg, t: "Weekly negative" },
  { x: 582, tx: 641, c: COL.daily, t: "Daily Score" },
  { x: 776, tx: 834, c: COL.d4, t: "Daily Score +/- 4" },
  { x: 1026, tx: 1085, c: COL.d5, t: "Daily Score +/- 5" }
];
boxes.forEach(b => {
  legend.append("rect").attr("x", b.x).attr("y", 1191).attr("width", 53).attr("height", 15).attr("fill", b.c);
  legend.append("text").attr("x", b.tx).attr("y", 1207).text(b.t);
});
const lines = [
  { x: 1276, tx: 1332, c: COL.ratio, t: "GSCIXAU" },
  { x: 1446, tx: 1505, c: COL.wma, t: "200wma" },
  { x: 1613, tx: 1671, c: COL.weekly, t: "Weekly Score" }
];
lines.forEach(b => {
  legend.append("line").attr("x1", b.x).attr("x2", b.x + 53).attr("y1", 1198.5).attr("y2", 1198.5)
    .attr("stroke", b.c).attr("stroke-width", 4);
  legend.append("text").attr("x", b.tx).attr("y", 1207).text(b.t);
});
</script>
</body>
</html>
